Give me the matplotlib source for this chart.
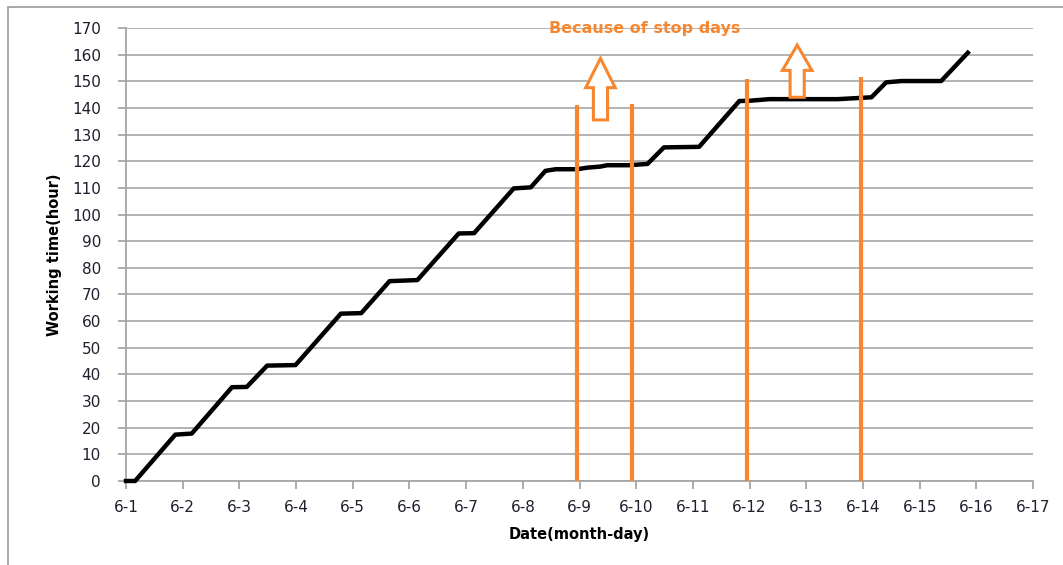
import matplotlib
matplotlib.use('Agg')
import matplotlib.pyplot as plt
import matplotlib.patches as patches

# cumulative working time, x in days after 6-1
days = [0, 0.16, 0.87, 1.16, 1.87, 2.13, 2.49, 2.99, 3.79, 4.15, 4.65, 5.14,
        5.87, 6.14, 6.84, 7.14, 7.40, 7.58, 7.96, 8.14, 8.37, 8.49, 8.87, 9.2,
        9.49, 10.11, 10.82, 11.0, 11.35, 12.56, 13.15, 13.41, 13.68, 14.38, 14.85]
hours = [0, 0, 17.4, 17.8, 35.2, 35.3, 43.3, 43.5, 62.8, 63.0, 75.0, 75.4,
         92.9, 93.0, 109.8, 110.2, 116.4, 117.0, 117.0, 117.6, 118.0, 118.5, 118.5, 119.0,
         125.2, 125.4, 142.6, 142.7, 143.3, 143.3, 144.0, 149.6, 150.1, 150.1, 160.7]

tick_labels = ['6-%d' % d for d in range(1, 18)]

# stop-day markers: position (days after 6-1) and height
stop_x = [7.96, 8.92, 10.96, 12.96]
stop_top = [141, 141.5, 151, 151.5]

# block arrows: x, base, tip
arrow_x = [8.37, 11.84]
arrow_base = [135.5, 144.0]
arrow_tip = [158.6, 163.6]

orange = '#f7862f'
grey = '#a6a6a6'

fig = plt.figure(figsize=(10.63, 5.65), dpi=100)
ax = fig.add_axes([126/1063, 1 - 481/565, (1033-126)/1063, (481-28)/565])

# outer frame of the chart area
fig.patches.append(patches.Rectangle((8/1063, -0.05), 1.1, 1 - 7/565 + 0.05,
                                     transform=fig.transFigure, fill=False,
                                     edgecolor='#9a9a9a', linewidth=1.2))

ax.set_xlim(0, 16)
ax.set_ylim(0, 170)
ax.set_yticks(range(0, 171, 10))
ax.set_xticks(range(0, 17))
ax.set_xticklabels(tick_labels)
ax.yaxis.grid(True, color=grey, linewidth=1.2)
ax.set_axisbelow(True)
for s in ['top', 'right']:
    ax.spines[s].set_visible(False)
for s in ['left', 'bottom']:
    ax.spines[s].set_color(grey)
    ax.spines[s].set_linewidth(1.3)
ax.tick_params(axis='both', colors=grey, width=1.3, length=6, labelcolor='#1f1f2e',
               labelsize=11)
ax.tick_params(axis='x', pad=8)
ax.tick_params(axis='y', pad=12)

ax.plot(days, hours, color='black', linewidth=3.2, solid_joinstyle='round',
        clip_on=False, zorder=3)

for x, top in zip(stop_x, stop_top):
    ax.plot([x, x], [0, top], color=orange, linewidth=3, zorder=4, clip_on=False,
            solid_capstyle='butt')

for x, b, t in zip(arrow_x, arrow_base, arrow_tip):
    head = 11 if t - b > 20 else 9.5
    ax.add_patch(patches.FancyArrow(x, b, 0, t - b, width=0.25, head_width=0.52,
                                    head_length=head, length_includes_head=True,
                                    facecolor='white', edgecolor=orange,
                                    linewidth=2.2, zorder=4))

ax.text(9.15, 170, 'Because of stop days', color=orange, fontsize=11.5,
        fontweight='bold', ha='center', va='center', zorder=5)

ax.set_ylabel('Working time(hour)', fontsize=10.5, fontweight='bold', labelpad=7)
ax.set_xlabel('Date(month-day)', fontsize=10.5, fontweight='bold', labelpad=8)

fig.savefig('out.png', dpi=100)
